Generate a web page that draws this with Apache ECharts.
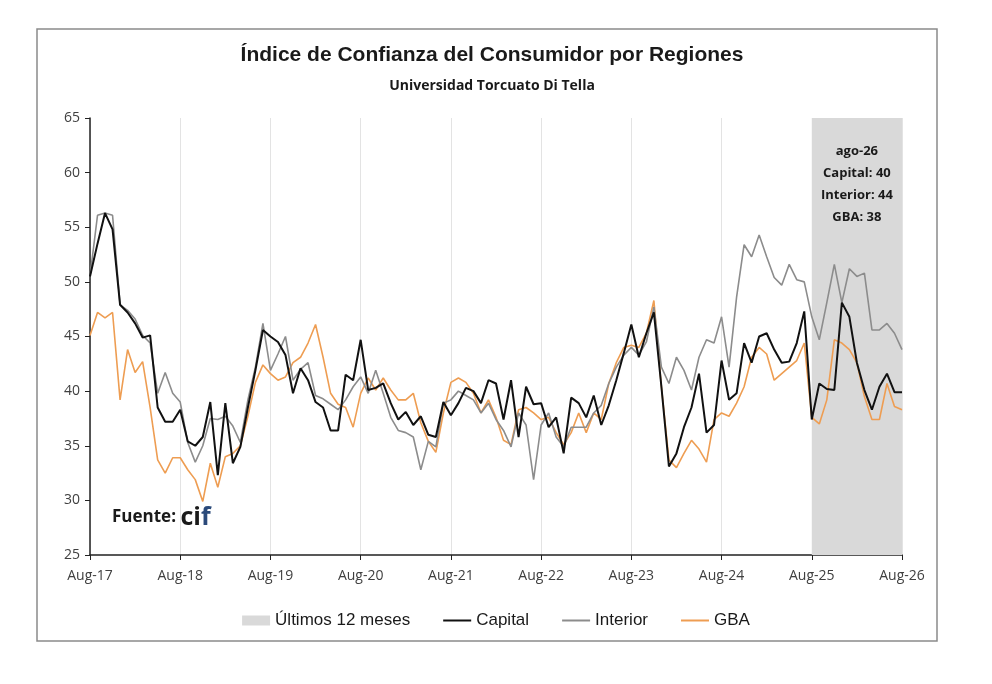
<!DOCTYPE html>
<html>
<head>
<meta charset="utf-8">
<script src="https://cdn.jsdelivr.net/npm/echarts@6/dist/echarts.min.js"></script>
<style>
  html, body { margin: 0; padding: 0; background: #fff; }
  #chart { width: 992px; height: 684px; }
</style>
</head>
<body>
<div id="chart"></div>
<script>
// meses: ago-17 a ago-26
const monthNames = ['Jan','Feb','Mar','Apr','May','Jun','Jul','Aug','Sep','Oct','Nov','Dec'];
const categories = [];
for (let i = 0; i <= 108; i++) {
    const m = (7 + i) % 12;
    const y = 17 + Math.floor((7 + i) / 12);
    categories.push(monthNames[m] + '-' + y);
}

const capital = [
    50.5, 53.5, 56.3, 54.8, 47.9, 47.2, 46.2, 44.9, 45.1, 38.5, 37.2, 37.2,
    38.3, 35.4, 35.0, 35.8, 39.0, 32.3, 38.9, 33.4, 34.9, 38.5, 41.9, 45.6,
    45.0, 44.5, 43.3, 39.8, 42.1, 41.0, 39.0, 38.5, 36.4, 36.4, 41.5, 41.0,
    44.7, 40.1, 40.3, 40.7, 38.9, 37.4, 38.1, 36.9, 37.7, 36.0, 35.8, 39.0,
    37.8, 38.9, 40.3, 40.0, 38.9, 41.0, 40.7, 37.4, 41.0, 35.8, 40.4, 38.8,
    38.9, 36.7, 37.6, 34.3, 39.4, 38.9, 37.6, 39.6, 36.9, 38.7, 41.0, 43.5,
    46.1, 43.1, 45.3, 47.2, 40.4, 33.1, 34.3, 36.7, 38.5, 41.6, 36.2, 36.9,
    42.8, 39.2, 39.8, 44.4, 42.6, 45.0, 45.3, 43.8, 42.6, 42.7, 44.4, 47.3,
    37.4, 40.7, 40.2, 40.1, 48.1, 46.8, 42.6, 40.1, 38.3, 40.4, 41.6, 39.9,
    39.9
];
const interior = [
    50.5, 56.1, 56.3, 56.1, 47.9, 47.4, 46.6, 45.1, 44.4, 39.8, 41.7, 39.8,
    39.0, 35.3, 33.5, 35.0, 37.5, 37.4, 37.7, 36.8, 35.3, 39.2, 42.2, 46.2,
    41.9, 43.4, 45.0, 41.0, 42.0, 42.6, 39.6, 39.3, 38.8, 38.3, 39.2, 40.4,
    41.3, 39.8, 41.9, 39.8, 37.6, 36.4, 36.2, 35.8, 32.8, 35.4, 34.9, 38.9,
    39.2, 40.0, 39.6, 39.2, 38.0, 38.9, 37.4, 36.4, 34.9, 38.0, 36.9, 31.9,
    36.9, 38.0, 35.8, 34.9, 36.7, 36.7, 36.7, 38.0, 38.7, 40.7, 42.2, 43.3,
    44.0, 43.3, 44.5, 47.7, 42.2, 40.7, 43.1, 41.9, 40.1, 43.1, 44.7, 44.4,
    46.8, 42.2, 48.6, 53.4, 52.3, 54.3, 52.3, 50.4, 49.7, 51.6, 50.2, 50.0,
    46.8, 44.7, 48.1, 51.6, 48.1, 51.2, 50.5, 50.8, 45.6, 45.6, 46.2, 45.3,
    43.8
];
const gba = [
    45.1, 47.2, 46.7, 47.2, 39.2, 43.8, 41.7, 42.7, 38.5, 33.7, 32.5, 33.9,
    33.9, 32.8, 31.9, 29.9, 33.4, 31.2, 34.0, 34.3, 35.0, 37.7, 40.8, 42.4,
    41.6, 41.0, 41.3, 42.6, 43.1, 44.4, 46.1, 43.1, 39.8, 38.8, 38.5, 36.7,
    39.8, 41.2, 40.1, 41.2, 40.1, 39.2, 39.2, 39.8, 37.1, 35.4, 34.4, 38.0,
    40.8, 41.2, 40.8, 39.8, 38.0, 39.2, 37.6, 35.5, 35.1, 38.3, 38.5, 38.0,
    37.4, 37.6, 36.2, 35.1, 36.2, 38.0, 36.2, 38.0, 37.4, 40.7, 42.6, 44.0,
    44.2, 44.0, 45.3, 48.3, 40.4, 33.7, 33.0, 34.3, 35.5, 34.7, 33.5, 37.4,
    38.0, 37.7, 38.9, 40.4, 43.1, 44.0, 43.4, 41.0, 41.6, 42.2, 42.8, 44.4,
    37.6, 37.0, 39.2, 44.7, 44.4, 43.8, 42.6, 39.5, 37.4, 37.4, 40.7, 38.6,
    38.3
];

const bandStart = 96;   // ultimos 12 meses
const last = categories.length - 1;

const myChart = echarts.init(document.getElementById('chart'));
const option = {
    backgroundColor: '#fff',
    animation: false,
    title: [
        {
            text: 'Índice de Confianza del Consumidor por Regiones',
            left: 487, top: 40, textAlign: 'center',
            textStyle: { fontFamily: 'Liberation Sans', fontSize: 21, fontWeight: 'bold', color: '#1a1a1a' }
        },
        {
            text: 'Universidad Torcuato Di Tella',
            left: 487, top: 74, textAlign: 'center',
            textStyle: { fontFamily: 'Open Sans', fontSize: 14, fontWeight: 'bold', color: '#1a1a1a' }
        }
    ],
    legend: {
        top: 607, left: 'center',
        itemWidth: 28, itemHeight: 10, itemGap: 32,
        textStyle: { fontFamily: 'Liberation Sans', fontSize: 17, color: '#1a1a1a' },
        itemStyle: { opacity: 0 },
        data: [
            { name: 'Últimos 12 meses', icon: 'rect', itemStyle: { opacity: 1, color: '#d9d9d9' } },
            'Capital', 'Interior', 'GBA'
        ]
    },
    grid: { left: 90, right: 90, top: 118, bottom: 129 },
    xAxis: {
        type: 'category',
        data: categories,
        boundaryGap: false,
        axisLine: { lineStyle: { color: '#222', width: 1.5 } },
        axisTick: { interval: 11, length: 5, lineStyle: { color: '#222' } },
        axisLabel: { interval: 11, margin: 14, fontFamily: 'Open Sans', fontSize: 14, color: '#404040' },
        splitLine: { show: true, interval: 11, lineStyle: { color: '#e3e3e3', width: 1 } }
    },
    yAxis: {
        type: 'value',
        min: 25, max: 65, interval: 5,
        axisLine: { show: true, lineStyle: { color: '#222', width: 1.5 } },
        axisTick: { show: true, length: 5, lineStyle: { color: '#222' } },
        axisLabel: { margin: 10, fontFamily: 'Open Sans', fontSize: 14, color: '#404040' },
        splitLine: { show: false }
    },
    graphic: [
        {
            type: 'rect',
            shape: { x: 37, y: 29, width: 900, height: 612 },
            style: { fill: 'none', stroke: '#8a8a8a', lineWidth: 1.5 },
            z: 0
        },
        {
            type: 'text',
            left: 112, top: 505,
            style: {
                text: '{a|Fuente: }{b|ci}{c|f}',
                rich: {
                    a: { fontFamily: 'Open Sans', fontSize: 17, fontWeight: 'bold', fill: '#1a1a1a' },
                    b: { fontFamily: 'Open Sans', fontSize: 25, fontWeight: 'bold', fill: '#1a1a1a' },
                    c: { fontFamily: 'Open Sans', fontSize: 25, fontWeight: 'bold', fill: '#2b4a7a' }
                }
            }
        }
    ],
    series: [
        {
            name: 'Últimos 12 meses',
            type: 'line',
            data: [],
            color: '#d9d9d9',
            z: 1,
            markArea: {
                silent: true,
                itemStyle: { color: '#d9d9d9' },
                label: {
                    show: true,
                    position: 'insideTop',
                    distance: 22,
                    lineHeight: 22,
                    fontFamily: 'Open Sans',
                    fontSize: 13,
                    fontWeight: 'bold',
                    color: '#1a1a1a',
                    formatter: 'ago-26\nCapital: ' + Math.round(capital[last]) +
                        '\nInterior: ' + Math.round(interior[last]) +
                        '\nGBA: ' + Math.round(gba[last])
                },
                data: [[{ xAxis: categories[bandStart] }, { xAxis: categories[last] }]]
            }
        },
        {
            name: 'GBA', type: 'line', data: gba, symbol: 'none', z: 2,
            color: '#ee9d52',
            lineStyle: { color: '#ee9d52', width: 1.6 }
        },
        {
            name: 'Interior', type: 'line', data: interior, symbol: 'none', z: 3,
            color: '#8c8c8c',
            lineStyle: { color: '#8c8c8c', width: 1.6 }
        },
        {
            name: 'Capital', type: 'line', data: capital, symbol: 'none', z: 4,
            color: '#111',
            lineStyle: { color: '#111', width: 2 }
        }
    ]
};
myChart.setOption(option);
</script>
</body>
</html>
